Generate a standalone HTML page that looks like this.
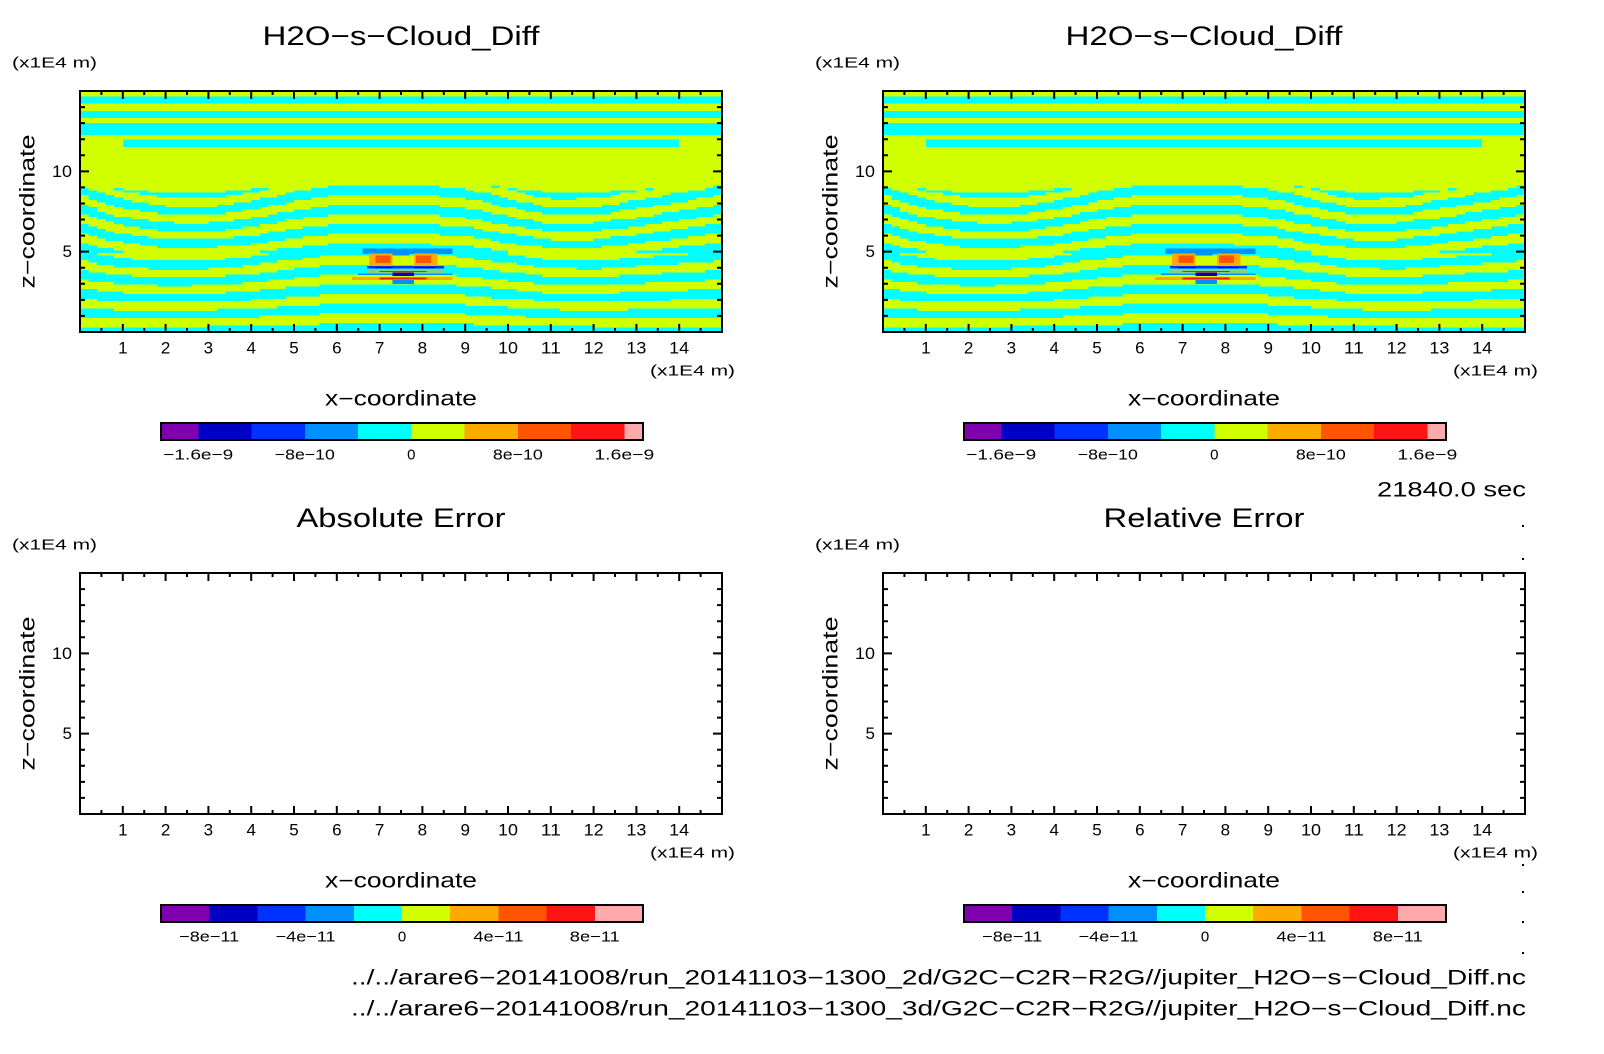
<!DOCTYPE html>
<html><head><meta charset="utf-8"><style>
html,body{margin:0;padding:0;background:#fff;}
svg{display:block;}
text{font-family:"Liberation Sans",sans-serif;fill:#000;}
</style></head><body>
<svg id="root" width="1604" height="1054" viewBox="0 0 1604 1054" xmlns="http://www.w3.org/2000/svg"></svg>
<script>
// ---- data ----
const xTicks=[1,2,3,4,5,6,7,8,9,10,11,12,13,14];
const zTicks=[5,10];
const cbColors=["#8000b0","#0000c4","#0032ff","#0090ff","#00ffff","#d2ff00","#ffaa00","#ff5500","#ff1414","#ffaaaa"];
const cbLabelsTop=["−1.6e−9","−8e−10","0","8e−10","1.6e−9"];
const cbLabelsBottom=["−8e−11","−4e−11","0","4e−11","8e−11"];
// ridge height of the wavy region (z) at x = 0..15
const ridge=[9.3,8.9,8.7,8.7,8.9,9.2,9.4,9.4,9.4,9.3,9.0,8.7,8.7,8.9,9.1,9.3];
// top horizontal bands [zLow, zHigh, colorIndex]
const topBands=[[14.7,15,5],[14.3,14.7,4],[13.85,14.3,5],[13.3,13.85,4],[13.0,13.3,5],[12.3,13.0,4],[12.0,12.3,5],[11.6,12.0,4],[11.05,11.6,5]];
// central anomaly rectangles [x0,x1,z0,z1,colorIndex]
const anomaly=[
 [6.6,8.7,4.85,5.2,3],[7.25,7.7,4.75,5.15,3],
 [6.75,7.3,4.1,4.9,6],[7.8,8.35,4.1,4.9,6],[6.9,7.25,4.3,4.75,7],[7.85,8.2,4.3,4.75,7],
 [6.7,8.5,3.95,4.1,2],[6.9,7.3,3.95,4.05,1],[7.8,8.3,3.95,4.05,1],
 [6.7,8.5,3.7,3.82,6],[7.0,8.1,3.75,3.8,8],
 [6.5,8.7,3.55,3.65,3],[7.3,7.8,3.5,3.7,1],
 [6.35,8.7,3.25,3.42,6],[7.0,8.1,3.28,3.38,8],[7.3,7.8,3.0,3.25,3]
];
// ---- layout ----
const NS="http://www.w3.org/2000/svg";
const root=document.getElementById('root');
function el(tag,attrs,parent){const e=document.createElementNS(NS,tag);for(const k in attrs)e.setAttribute(k,attrs[k]);(parent||root).appendChild(e);return e;}
function txt(s,x,y,size,anchor,parent,len){const a={x:x,y:y,'font-size':size,'text-anchor':anchor||'middle','dominant-baseline':'central'};if(len){a.textLength=len;a.lengthAdjust='spacingAndGlyphs';}const t=el('text',a,parent);t.textContent=s;return t;}
const panels=[
 {x0:80,y0:91,x1:722,y1:332,title:"H2O−s−Cloud_Diff",tl:277,field:true,cb:cbLabelsTop,name:"top-left"},
 {x0:883,y0:91,x1:1525,y1:332,title:"H2O−s−Cloud_Diff",tl:277,field:true,cb:cbLabelsTop,name:"top-right"},
 {x0:80,y0:573,x1:722,y1:814,title:"Absolute Error",tl:209,field:false,cb:cbLabelsBottom,name:"absolute-error"},
 {x0:883,y0:573,x1:1525,y1:814,title:"Relative Error",tl:201,field:false,cb:cbLabelsBottom,name:"relative-error"}
];
function ridgeAt(x){const i=Math.min(14,Math.floor(x));const f=x-i;return ridge[i]*(1-f)+ridge[i+1]*f;}
function fieldColor(x,z){
 for(const b of topBands){if(z>=b[0]&&z<b[1]){ if(b[0]===11.6&&(x<1.0||x>14.0)) return 5; return b[2];}}
 const r=ridgeAt(x);
 if(z>=r) return 5;
 const warp=(r-9.0)*(z/9)*2.2 + 0.25*Math.abs(x-7.5)/7.5*(z>5?1:-1);
 const k=Math.floor((z-warp)/0.55);
 return (k%2===0)?4:5;
}
panels.forEach((p,pi)=>{
 const g=el('g',{});
 
 
 const sx=v=>p.x0+(p.x1-p.x0)*v/15;
 const sz=v=>p.y1-(p.y1-p.y0)*v/15;
 if(p.field){
  const hm=el('g',{'shape-rendering':'crispEdges'},g);
  
  
  const dx=0.2,dz=0.15;
  for(let zi=0;zi<100;zi++){
   const z=zi*dz+dz/2;
   let start=0,cur=fieldColor(dx/2,z);
   for(let xi=1;xi<=75;xi++){
    const c=xi<75?fieldColor(xi*dx+dx/2,z):-1;
    if(c!==cur){
     const r=el('rect',{x:sx(start*dx),y:sz((zi+1)*dz),width:sx(xi*dx)-sx(start*dx)+0.5,height:sz(zi*dz)-sz((zi+1)*dz)+0.5,fill:cbColors[cur]},hm);
     
     
     start=xi;cur=c;
    }
   }
  }
  anomaly.forEach(a=>{
   const r=el('rect',{x:sx(a[0]),y:sz(a[3]),width:sx(a[1])-sx(a[0]),height:sz(a[2])-sz(a[3]),fill:cbColors[a[4]]},hm);
   
   
  });
 }
 const fr=el('rect',{x:p.x0,y:p.y0,width:p.x1-p.x0,height:p.y1-p.y0,fill:'none',stroke:'#000','stroke-width':2},g);
 
 
 let d='';
 for(let v=0.5;v<15;v+=0.5){const X=sx(v);const L=(v%1===0)?8:4;d+=`M${X} ${p.y1}v${-L}M${X} ${p.y0}v${L}`;}
 for(let v=1;v<15;v+=1){const Y=sz(v);const L=(v%5===0)?9:5;d+=`M${p.x0} ${Y}h${L}M${p.x1} ${Y}h${-L}`;}
 const tk=el('path',{d:d,stroke:'#000','stroke-width':2,fill:'none'},g);
 
 
 xTicks.forEach(v=>{const t=txt(String(v),sx(v),p.y1+16,17,'middle',g,v>=10?20:null);
  
  });
 zTicks.forEach(v=>{const t=txt(String(v),p.x0-8,sz(v),17,'end',g,v>=10?20:null);
  
  });
 const cx=(p.x0+p.x1)/2;
 const ti=txt(p.title,cx,p.y0-55,27,'middle',g,p.tl);
 
 
 const u1=txt("(x1E4 m)",p.x0-68,p.y0-28,15,'start',g,85);
 
 
 const u2=txt("(x1E4 m)",p.x1-72,p.y1+39,15,'start',g,85);
 
 
 const xl=txt("x−coordinate",cx,p.y1+67,21,'middle',g,152);
 
 
 const zl=txt("z−coordinate",0,0,21,'middle',g,154);
 zl.setAttribute('transform',`translate(${p.x0-52},${(p.y0+p.y1)/2}) rotate(-90)`);
 
 
 const cbx0=p.x0+81,cbx1=p.x0+563,cby0=p.y1+91,cby1=p.y1+108;
 const cb=el('g',{'shape-rendering':'crispEdges'},g);
 
 
 let edges;
 if(pi<2){const w=(cbx1-cbx0)/9.05;edges=[cbx0];let x=cbx0+w*0.7;for(let i=0;i<9;i++){edges.push(x);x+=w;}edges.push(cbx1);}
 else{const w=(cbx1-cbx0)/10;edges=[];for(let i=0;i<=10;i++)edges.push(cbx0+w*i);}
 cbColors.forEach((c,i)=>{const r=el('rect',{x:edges[i],y:cby0,width:edges[i+1]-edges[i],height:cby1-cby0,fill:c},cb);
  
  });
 el('rect',{x:cbx0,y:cby0,width:cbx1-cbx0,height:cby1-cby0,fill:'none',stroke:'#000','stroke-width':2},cb);
 p.cb.forEach((s,i)=>{const t=txt(s,edges[1+2*i],p.y1+123,15,'middle',g,s.length>1?s.length*10:null);
  
  });
});
const tm=txt("21840.0 sec",1526,490,21,'end',null,149);


const f1=txt("../../arare6−20141008/run_20141103−1300_2d/G2C−C2R−R2G//jupiter_H2O−s−Cloud_Diff.nc",1526,978,21,'end',null,1175);


const f2=txt("../../arare6−20141008/run_20141103−1300_3d/G2C−C2R−R2G//jupiter_H2O−s−Cloud_Diff.nc",1526,1009,21,'end',null,1175);


[525,558,864,891,921,952].forEach(y=>{const c=el('rect',{x:1522,y:y,width:2,height:2,fill:'#000'});
 
 });
</script>
</body></html>
